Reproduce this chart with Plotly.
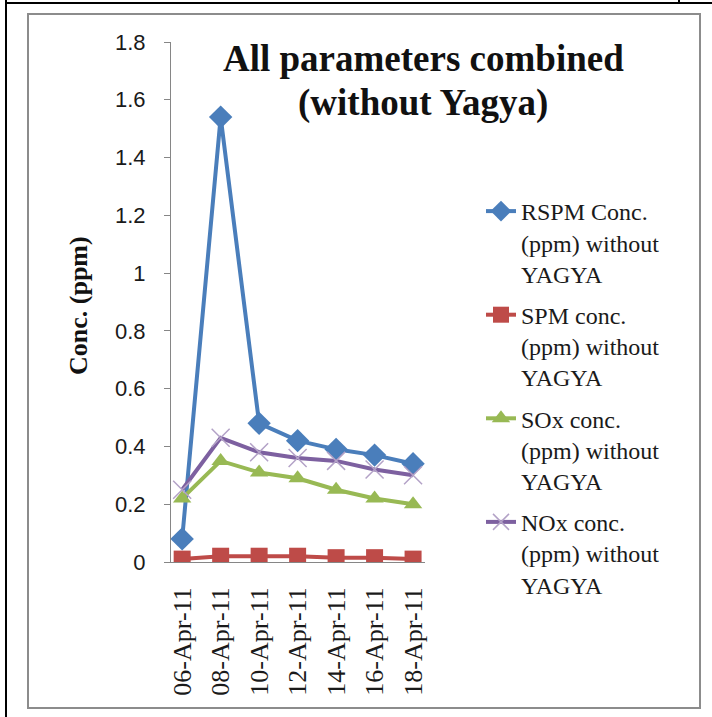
import plotly.graph_objects as go

dates = ["06-Apr-11", "08-Apr-11", "10-Apr-11", "12-Apr-11", "14-Apr-11", "16-Apr-11", "18-Apr-11"]
rspm = [0.08, 1.54, 0.48, 0.42, 0.39, 0.37, 0.34]
spm = [0.01, 0.02, 0.02, 0.02, 0.015, 0.015, 0.01]
sox = [0.22, 0.35, 0.31, 0.29, 0.25, 0.22, 0.20]
nox = [0.25, 0.43, 0.38, 0.36, 0.35, 0.32, 0.30]

W, H = 712, 717
L, R, T, B = 171, 425, 42, 562  # plot area in pixels


def px(x):
    return (x - L) / (R - L)


def py(y):
    return (B - y) / (B - T)


xs = list(range(len(dates)))
fig = go.Figure()
fig.add_trace(go.Scatter(x=xs, y=rspm, mode="lines+markers",
                         name="RSPM Conc.<br>(ppm) without<br>YAGYA", legendgroup="a",
                         line=dict(color="#4A7EBB", width=4),
                         marker=dict(symbol="diamond", size=18, color="#4A7EBB")))
fig.add_trace(go.Scatter(x=xs, y=spm, mode="lines+markers",
                         name="SPM conc.<br>(ppm) without<br>YAGYA", legendgroup="b",
                         line=dict(color="#BE4B48", width=4),
                         marker=dict(symbol="square", size=17, color="#BE4B48")))
fig.add_trace(go.Scatter(x=xs, y=sox, mode="lines+markers",
                         name="SOx conc.<br>(ppm) without<br>YAGYA", legendgroup="c",
                         line=dict(color="#98B954", width=4),
                         marker=dict(symbol="triangle-up", size=16, color="#98B954")))
fig.add_trace(go.Scatter(x=xs, y=nox, mode="lines+markers",
                         name="NOx conc.<br>(ppm) without<br>YAGYA", legendgroup="d",
                         line=dict(color="#7D60A0", width=4),
                         marker=dict(symbol="x-thin", size=18, color="#B3A2C7",
                                     line=dict(color="#B3A2C7", width=1.5))))

fig.update_layout(
    width=W, height=H,
    margin=dict(l=L, r=W - R, t=T, b=H - B),
    paper_bgcolor="white", plot_bgcolor="white",
    showlegend=True,
    legend=dict(x=481 / W, y=1 - 189 / H, xref="container", yref="container",
                xanchor="left", yanchor="top", valign="top", tracegroupgap=7,
                maxheight=0.9,
                font=dict(family="Liberation Serif, Times New Roman, serif", size=24, color="#1a1a1a"),
                bgcolor="rgba(0,0,0,0)"),
    xaxis=dict(range=[-0.29, 6.31], tickmode="array", tickvals=xs,
               ticktext=dates, tickangle=-90, showgrid=False, zeroline=False,
               showline=True, linecolor="#868686", linewidth=1, ticks="",
               ticklabelstandoff=14,
               tickfont=dict(family="Liberation Serif", size=26, color="#1a1a1a")),
    yaxis=dict(range=[0, 1.8], dtick=0.2, showgrid=False, zeroline=False,
               showline=True, linecolor="#868686", linewidth=1,
               ticks="outside", ticklen=6, tickcolor="#868686", ticklabelstandoff=14,
               tickfont=dict(family="Liberation Sans", size=22, color="#1a1a1a")),
)

fig.add_annotation(text="<b>All parameters combined</b>", x=px(423), y=py(58),
                   xref="paper", yref="paper", xanchor="center", yanchor="middle",
                   showarrow=False,
                   font=dict(family="Liberation Serif", size=37, color="#111"))
fig.add_annotation(text="<b>(without Yagya)</b>", x=px(423), y=py(103),
                   xref="paper", yref="paper", xanchor="center", yanchor="middle",
                   showarrow=False,
                   font=dict(family="Liberation Serif", size=37, color="#111"))
fig.add_annotation(text="<b>Conc. (ppm)</b>", x=px(78), y=py(306), textangle=-90,
                   xref="paper", yref="paper", xanchor="center", yanchor="middle",
                   showarrow=False,
                   font=dict(family="Liberation Serif", size=26, color="#111"))

# chart frame and page borders
fig.add_shape(type="rect", xref="paper", yref="paper",
              x0=px(28), x1=px(700), y0=py(708), y1=py(14),
              line=dict(color="#8c8c8c", width=2), layer="below")
fig.add_shape(type="line", xref="paper", yref="paper",
              x0=px(5), x1=px(712), y0=py(3), y1=py(3), line=dict(color="black", width=2))
fig.add_shape(type="line", xref="paper", yref="paper",
              x0=px(6), x1=px(6), y0=py(0), y1=py(717), line=dict(color="black", width=2))
fig.add_shape(type="line", xref="paper", yref="paper",
              x0=px(679), x1=px(679), y0=py(0), y1=py(4), line=dict(color="black", width=2))

fig.write_html("out.html", config={"displayModeBar": False},
               post_script="document.body.style.margin='0';")
